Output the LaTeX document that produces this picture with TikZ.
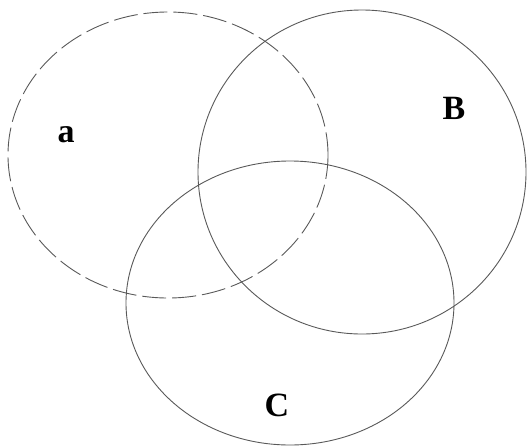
\documentclass[tikz,border=0pt]{standalone}
\usepackage{fontspec}
\setmainfont{Liberation Serif}
\begin{document}
\begin{tikzpicture}[x=1pt,y=-1pt,
				set/.style={line width=0.9pt,draw=black!65},
				lbl/.style={font=\fontsize{34}{34}\selectfont\bfseries}]

			\useasboundingbox (0,0) rectangle (527,445);

			\draw[set,dash pattern=on 24pt off 6pt] (168,155) ellipse [x radius=160,y radius=143];
			\draw[set] (362,172) ellipse [x radius=164,y radius=162];
			\draw[set] (290,303) ellipse [x radius=164,y radius=142];

			\node[lbl] (la) at (66,135) {a};
			\node[lbl] (lb) at (454,108) {B};
			\node[lbl] (lc) at (277,405) {C};

		\end{tikzpicture}
\end{document}
